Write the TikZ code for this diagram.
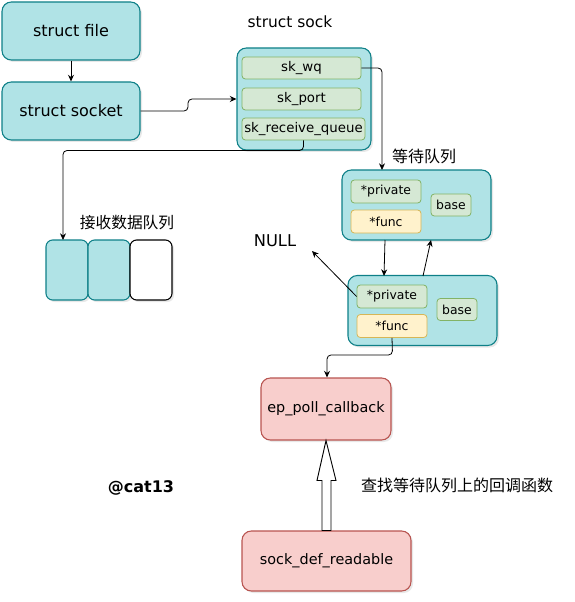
\documentclass[tikz,border=0pt]{standalone}
\usepackage{fontspec}
\setmainfont{DejaVu Sans}
\newfontfamily\cjk{Noto Sans CJK SC}
\usetikzlibrary{arrows.meta,calc,shadows}
\definecolor{cyanfill}{HTML}{B0E3E6}
\definecolor{cyandraw}{HTML}{0E8088}
\definecolor{grnfill}{HTML}{D5E8D4}
\definecolor{grndraw}{HTML}{82B366}
\definecolor{yelfill}{HTML}{FFF2CC}
\definecolor{yeldraw}{HTML}{D6B656}
\definecolor{redfill}{HTML}{F8CECC}
\definecolor{reddraw}{HTML}{B85450}
\tikzset{
  shad/.style={drop shadow={opacity=0.18,shadow xshift=1.5pt,shadow yshift=-1.5pt}},
  bigbox/.style={draw=cyandraw,fill=cyanfill,rounded corners=7pt,line width=0.8pt,shad,font=\fontsize{12}{14}\selectfont,inner sep=0pt},
  redbox/.style={draw=reddraw,fill=redfill,rounded corners=7pt,line width=0.8pt,shad,font=\fontsize{10.8}{13}\selectfont,inner sep=0pt},
  fieldbox/.style={draw=grndraw,fill=grnfill,rounded corners=2.5pt,line width=0.6pt,font=\fontsize{10}{12}\selectfont,inner sep=0pt,minimum height=16.5pt},
  wqfield/.style={fieldbox,font=\fontsize{9.3}{11}\selectfont},
  funcbox/.style={draw=yeldraw,fill=yelfill,rounded corners=2.5pt,line width=0.6pt,font=\fontsize{9.3}{11}\selectfont,inner sep=0pt,minimum height=16.5pt},
  cell/.style={draw=cyandraw,fill=cyanfill,rounded corners=5pt,line width=0.8pt,minimum width=31.5pt,minimum height=45pt,inner sep=0pt,shad},
  conn/.style={draw=black,line width=0.6pt,rounded corners=3pt,-{Stealth[length=5pt,width=4.5pt]}},
  lbl/.style={font=\fontsize{11.6}{13}\selectfont,inner sep=0pt},
  cjklbl/.style={font=\cjk\fontsize{12}{14}\selectfont,inner sep=0pt},
}
\begin{document}
\begin{tikzpicture}[x=0.75pt,y=-0.75pt]
\useasboundingbox (0,0) rectangle (574,602);

\node[bigbox,minimum width=103.5pt,minimum height=43.5pt] (file) at (71,31) {struct file};
\node[bigbox,minimum width=103.5pt,minimum height=43.5pt] (socket) at (71,111) {struct socket};

\node[lbl] (socklbl) at (290,22) {struct sock};
\node[bigbox,minimum width=100.5pt,minimum height=76.5pt] (sock) at (304,99) {};
\node[fieldbox,minimum width=89.25pt] (skwq) at (301.5,68) {sk\_wq};
\node[fieldbox,minimum width=89.25pt] (skport) at (301.5,99) {sk\_port};
\node[fieldbox,minimum width=92.25pt] (skrq) at (303.5,129) {sk\_receive\_queue};

\node[cjklbl] (wqlbl) at (424,156) {等待队列};
\node[bigbox,minimum width=111.75pt,minimum height=52.5pt] (wq1) at (416.5,205) {};
\node[wqfield,minimum width=52.5pt,minimum height=17.25pt] (p1) at (386,191.5) {*private};
\node[funcbox,minimum width=52.5pt,minimum height=17.25pt] (f1) at (386,221.5) {*func};
\node[wqfield,minimum width=30pt] (b1) at (451,205) {base};

\node[bigbox,minimum width=111.75pt,minimum height=52.5pt] (wq2) at (422.5,310.5) {};
\node[wqfield,minimum width=52.5pt,minimum height=17.25pt] (p2) at (392,296.5) {*private};
\node[funcbox,minimum width=52.5pt,minimum height=17.25pt] (f2) at (392,326) {*func};
\node[wqfield,minimum width=30pt] (b2) at (457,309.5) {base};

\node[lbl,font=\fontsize{12.2}{14}\selectfont] (null) at (275,241) {NULL};

\node[redbox,minimum width=97.5pt,minimum height=46.5pt] (ep) at (326,409) {ep\_poll\_callback};
\node[redbox,minimum width=126.75pt,minimum height=45pt] (sd) at (326.5,561) {sock\_def\_readable};

\node[cjklbl] (findlbl) at (457,485) {查找等待队列上的回调函数};
\node[lbl,font=\bfseries\fontsize{12}{14}\selectfont] (cat) at (141,488) {@cat13};

\node[cjklbl,font=\cjk\fontsize{11.8}{14}\selectfont] (rqlbl) at (127,223) {接收数据队列};
\node[cell] (c1) at (67,270) {};
\node[cell] (c2) at (109,270) {};
\node[cell,fill=white,draw=black] (c3) at (151,270) {};

% connectors
\draw[conn] (file.south) -- (socket.north);
\draw[conn] (socket.east) -- (188,111) -- (188,99) -- (sock.west |- 0,99);
\coordinate (wqin) at (382,170);
\draw[conn] (skwq.east) -- (382,68) -- (wqin);
\draw[conn] (skrq.south) -- (303.5,150.5) -- (63,150.5) -- (63,240);
\draw[conn] (385,240) -- (384,276);
\draw[conn] (423,276) -- (431,240);
\draw[conn] (p2.west) -- (312,251);
\draw[conn] (f2.south) -- (392.5,355) -- (327,355) -- (ep.north -| 327,0);

% hollow block arrow
\draw[fill=white,line width=0.7pt,line join=miter]
  ($(sd.north)+(-4.5,0)$) -- ++(0,-50) -- ++(-5,0) -- (ep.south) -- ($(sd.north)+(9.5,-50)$) -- ++(-5,0) -- ($(sd.north)+(4.5,0)$) -- cycle;
\end{tikzpicture}
\end{document}
